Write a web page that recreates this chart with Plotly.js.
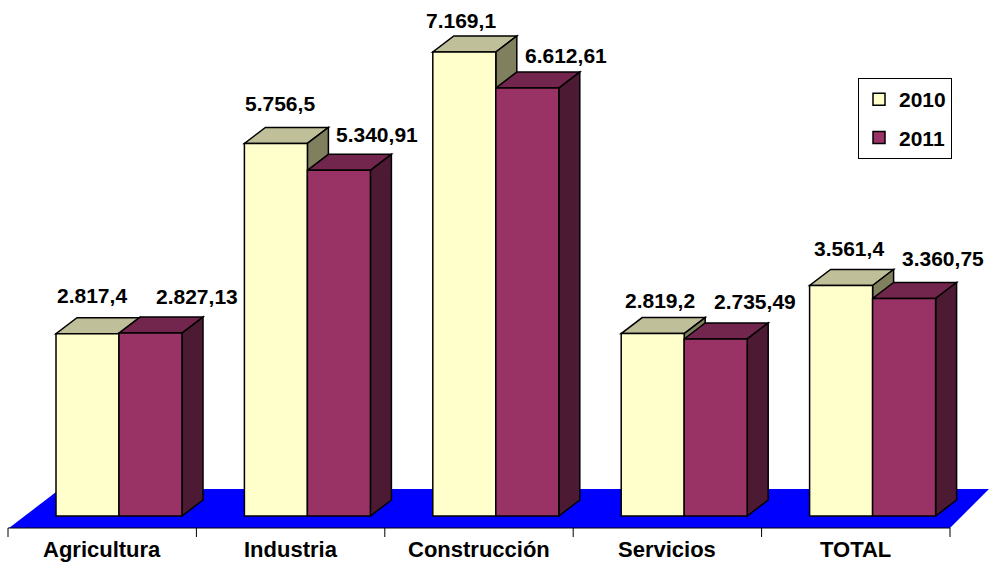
<!DOCTYPE html>
<html>
<head>
<meta charset="utf-8">
<script src="https://cdn.plot.ly/plotly-3.0.1.min.js"></script>
<style>html,body{margin:0;padding:0;background:#fff;}#chart{width:989px;height:566px;}</style>
</head>
<body>
<div id="chart"></div>
<script>
// ---- data ----
const categories = ['Agricultura', 'Industria', 'Construcción', 'Servicios', 'TOTAL'];
const seriesNames = ['2010', '2011'];
const values2010 = [2817.4, 5756.5, 7169.1, 2819.2, 3561.4];
const values2011 = [2827.13, 5340.91, 6612.61, 2735.49, 3360.75];
const decimals = [1, 2];

// ---- geometry (pixel-based layout constants) ----
const W = 989, H = 566;
const catPx = 188.4, axisLeftPx = 8;
const k = 0.06472;          // px per value unit
const zeroPx = 516;         // pixel row of value 0 (bar fronts' base)
const pxToX = p => (p - axisLeftPx) / catPx - 0.5;
const pxToY = p => (zeroPx - p) / k;
const dxD = 21 / catPx;     // depth offset (x)
const dyD = 16 / k;         // depth offset (y)
const barW = 63 / catPx;
const offsets = [-46.2 / catPx, 16.8 / catPx];
const colors = {
  front: ['#FFFFCC', '#993366'],
  top:   ['#BFBF99', '#73264D'],
  side:  ['#80805F', '#4D1A33']
};
const FONT = 'Arial, "Liberation Sans", sans-serif';
const xs = categories.map((c, i) => i);
const series = [values2010, values2011];

function fmt(v, d) {
  const s = v.toFixed(d).split('.');
  const ip = s[0].replace(/\B(?=(\d{3})+(?!\d))/g, '.');
  return d ? ip + ',' + s[1] : ip;
}
function poly(pts) {
  return 'M' + pts.map(p => p[0] + ',' + p[1]).join('L') + 'Z';
}

const shapes = [];
// floor
const fy0 = pxToY(528), fy1 = pxToY(489);
shapes.push({type: 'path', xref: 'x', yref: 'y', layer: 'below',
  path: poly([[pxToX(9), fy0], [pxToX(950), fy0], [pxToX(989), fy1], [pxToX(60), fy1]]),
  fillcolor: '#0000FF', line: {width: 0}});
// axis line
shapes.push({type: 'line', xref: 'x', yref: 'y', layer: 'below',
  x0: -0.5, x1: categories.length - 0.5, y0: fy0, y1: fy0, line: {color: '#000', width: 1}});
// ticks
for (let i = 0; i <= categories.length; i++) {
  shapes.push({type: 'line', xref: 'x', yref: 'y', layer: 'below',
    x0: i - 0.5, x1: i - 0.5, y0: fy0, y1: pxToY(537), line: {color: '#000', width: 1}});
}
// 3D faces (top & side) drawn below bar fronts
const edge = {color: '#000', width: 1.5};
categories.forEach((c, i) => {
  series.forEach((vals, s) => {
    const L = i + offsets[s], R = L + barW, h = vals[i];
    shapes.push({type: 'path', xref: 'x', yref: 'y', layer: 'below',
      path: poly([[L, h], [R, h], [R + dxD, h + dyD], [L + dxD, h + dyD]]),
      fillcolor: colors.top[s], line: edge});
    shapes.push({type: 'path', xref: 'x', yref: 'y', layer: 'below',
      path: poly([[R, 0], [R, h], [R + dxD, h + dyD], [R + dxD, dyD]]),
      fillcolor: colors.side[s], line: edge});
  });
});

const traces = series.map((vals, s) => ({
  type: 'bar',
  name: seriesNames[s],
  legendgroup: seriesNames[s],
  x: xs,
  y: vals,
  offset: offsets[s],
  width: barW,
  marker: {color: colors.front[s], line: {color: '#000', width: 1.5}},
  hoverinfo: 'skip'
}));

const annotations = [];
categories.forEach((c, i) => {
  annotations.push({x: i, y: pxToY(549), xref: 'x', yref: 'y', text: c, showarrow: false,
    font: {family: FONT, size: 22, color: '#000', weight: 'bold'}, xanchor: 'center', yanchor: 'middle'});
});
const labelXShift = [[4, 4, -3, 7, 8], [46, 38, 39, 39, 39]];
const labelYShift = [[38, 40, 32, 33, 37], [37, 36, 33, 37, 40]];
series.forEach((vals, s) => {
  vals.forEach((v, i) => {
    annotations.push({x: i + offsets[s] + barW / 2, y: v, xref: 'x', yref: 'y',
      text: fmt(v, decimals[s]), showarrow: false,
      xshift: labelXShift[s][i], yshift: labelYShift[s][i],
      font: {family: FONT, size: 21, color: '#000', weight: 'bold'},
      xanchor: 'center', yanchor: 'middle'});
  });
});

const layout = {
  width: W, height: H,
  margin: {l: 0, r: 0, t: 0, b: 0, pad: 0},
  paper_bgcolor: '#fff', plot_bgcolor: '#fff',
  barmode: 'overlay',
  xaxis: {range: [pxToX(0), pxToX(W)], visible: false, fixedrange: true},
  yaxis: {range: [pxToY(H), pxToY(0)], visible: false, fixedrange: true},
  showlegend: true,
  legend: {
    x: 858 / W, y: 1 - 78 / H, xanchor: 'left', yanchor: 'top',
    bordercolor: '#000', borderwidth: 1, bgcolor: '#fff',
    font: {family: FONT, size: 21, color: '#000', weight: 'bold'},
    traceorder: 'grouped', tracegroupgap: 8, itemwidth: 30
  },
  shapes: shapes,
  annotations: annotations
};

Plotly.newPlot('chart', traces, layout, {staticPlot: true, displayModeBar: false});
</script>
</body>
</html>
